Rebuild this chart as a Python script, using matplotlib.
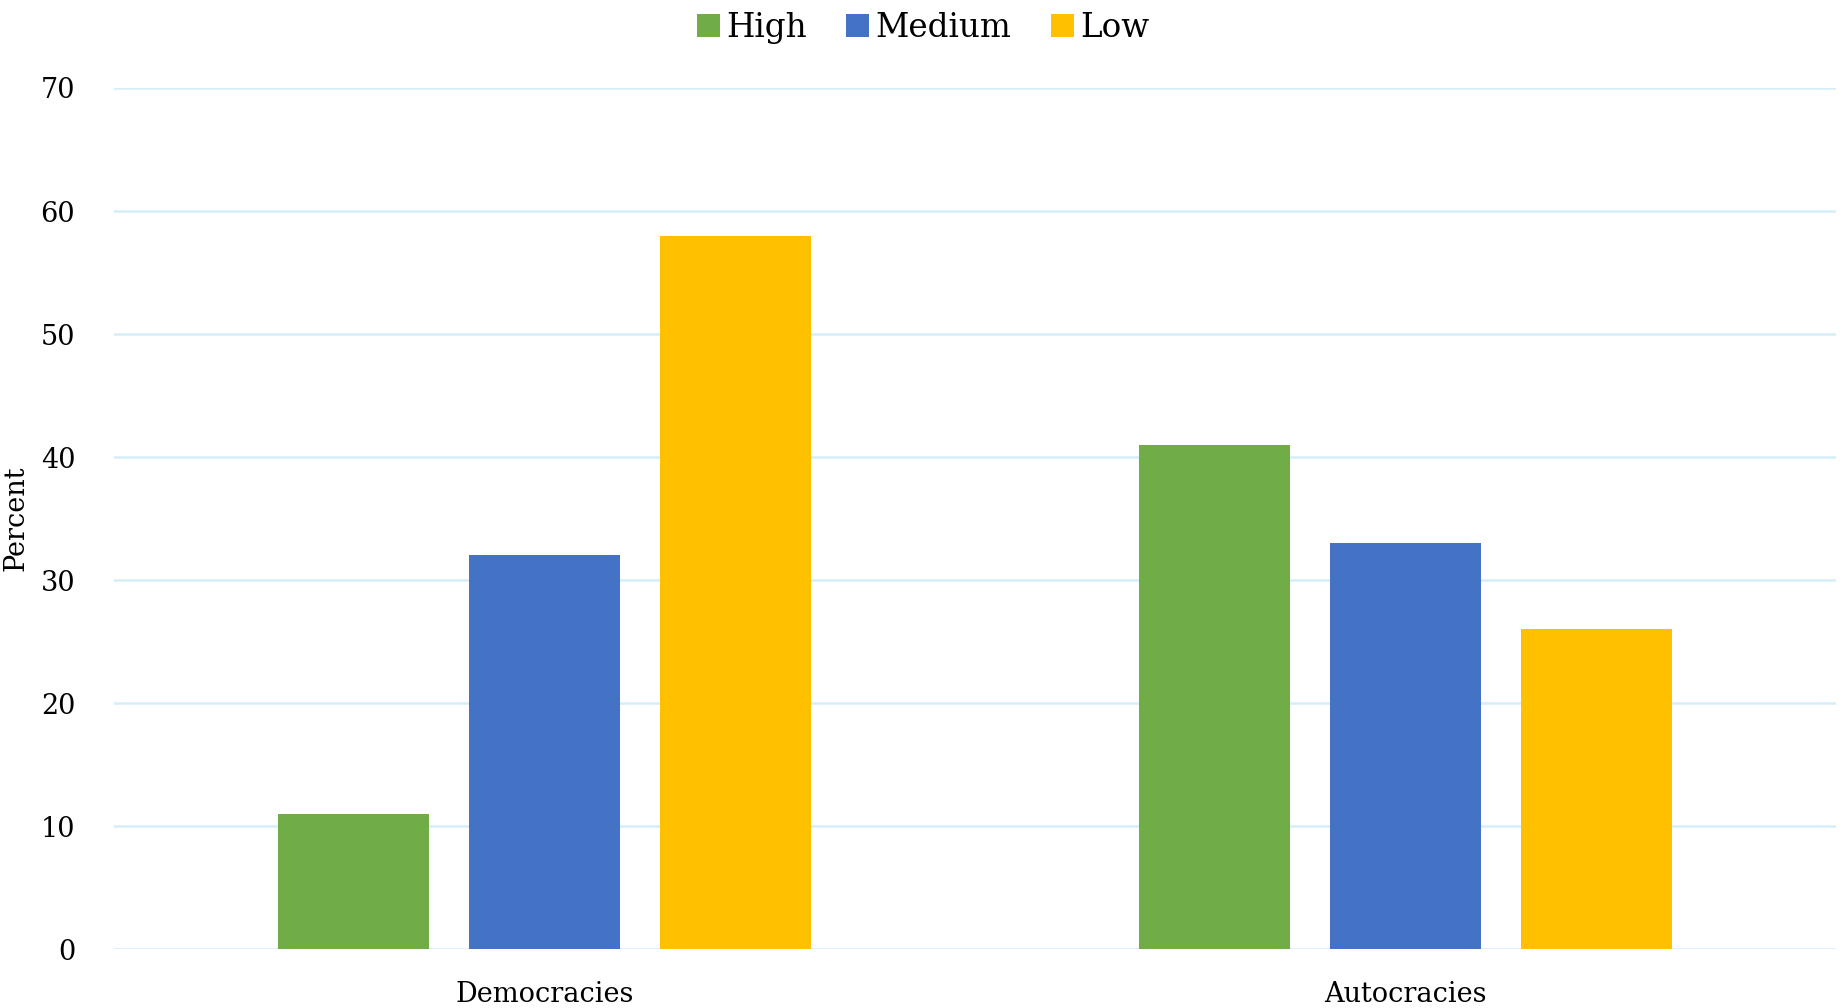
import numpy as np
import matplotlib.pyplot as plt

categories = ['Democracies', 'Autocracies']
series = ['High', 'Medium', 'Low']
high = [11, 41]
medium = [32, 33]
low = [58, 26]
colors = ['#70AD47', '#4472C4', '#FFC000']

plt.rcParams['font.family'] = ['DejaVu Serif']

fig = plt.figure(figsize=(18.42, 10.08), dpi=100)
ax = fig.add_axes([0.0619, 0.0585, 0.9348, 0.8542])

x = np.arange(len(categories))
w = 0.175
step = 0.222
for i, (vals, name) in enumerate(zip([high, medium, low], series)):
    ax.bar(x + (i - 1) * step, vals, w, color=colors[i], label=name, zorder=3)

ax.set_xlim(-0.5, 1.5)
ax.set_ylim(0, 70)
ax.set_yticks(range(0, 71, 10))
ax.set_xticks(x)
ax.set_xticklabels(categories, fontsize=19.5)
ax.tick_params(axis='y', labelsize=19.5, length=0, pad=28)
ax.tick_params(axis='x', length=0, pad=23)
ax.grid(axis='y', color='#D6EEF8', linewidth=1.8, zorder=0)
for s in ax.spines.values():
    s.set_visible(False)
ax.set_ylabel('Percent', fontsize=19.5, labelpad=8)

ax.legend(loc='upper center', bbox_to_anchor=(0.47, 1.122), ncol=3, frameon=False,
          fontsize=23.5, handlelength=0.7, handleheight=0.7, handletextpad=0.2,
          columnspacing=1.2)

fig.savefig('out.png', dpi=100)
